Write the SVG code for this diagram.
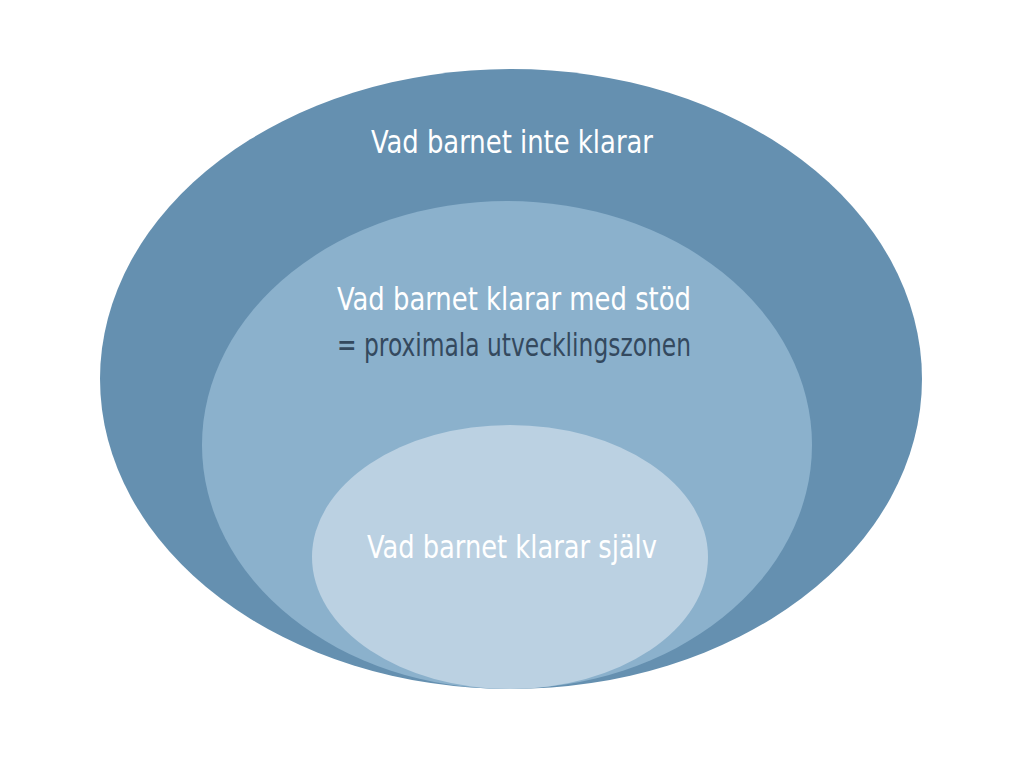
<svg xmlns="http://www.w3.org/2000/svg" width="1024" height="768" viewBox="0 0 1024 768">
<style>
.t{font-family:"Liberation Sans Narrow","DejaVu Sans Condensed","Liberation Sans",sans-serif;font-size:32px;text-anchor:middle;font-weight:normal}
.w{fill:#ffffff}
.d{fill:#34495e}
</style>
<rect width="1024" height="768" fill="#ffffff"/>
<g id="outer">
<ellipse cx="511" cy="379" rx="411" ry="310" fill="#6590b0"/>
<text class="t w" x="512" y="153" textLength="282" lengthAdjust="spacingAndGlyphs">Vad barnet inte klarar</text>
</g>
<g id="middle">
<ellipse cx="507" cy="445" rx="305" ry="244" fill="#8bb1cc"/>
<text class="t w" x="514" y="310" textLength="354" lengthAdjust="spacingAndGlyphs">Vad barnet klarar med stöd</text>
<text class="t d" x="514" y="356" textLength="354" lengthAdjust="spacingAndGlyphs">= proximala utvecklingszonen</text>
</g>
<g id="inner">
<ellipse cx="510" cy="557" rx="198" ry="132" fill="#bbd1e2"/>
<text class="t w" x="512" y="558" textLength="290" lengthAdjust="spacingAndGlyphs">Vad barnet klarar själv</text>
</g>
<g id="connectors"/>
</svg>
